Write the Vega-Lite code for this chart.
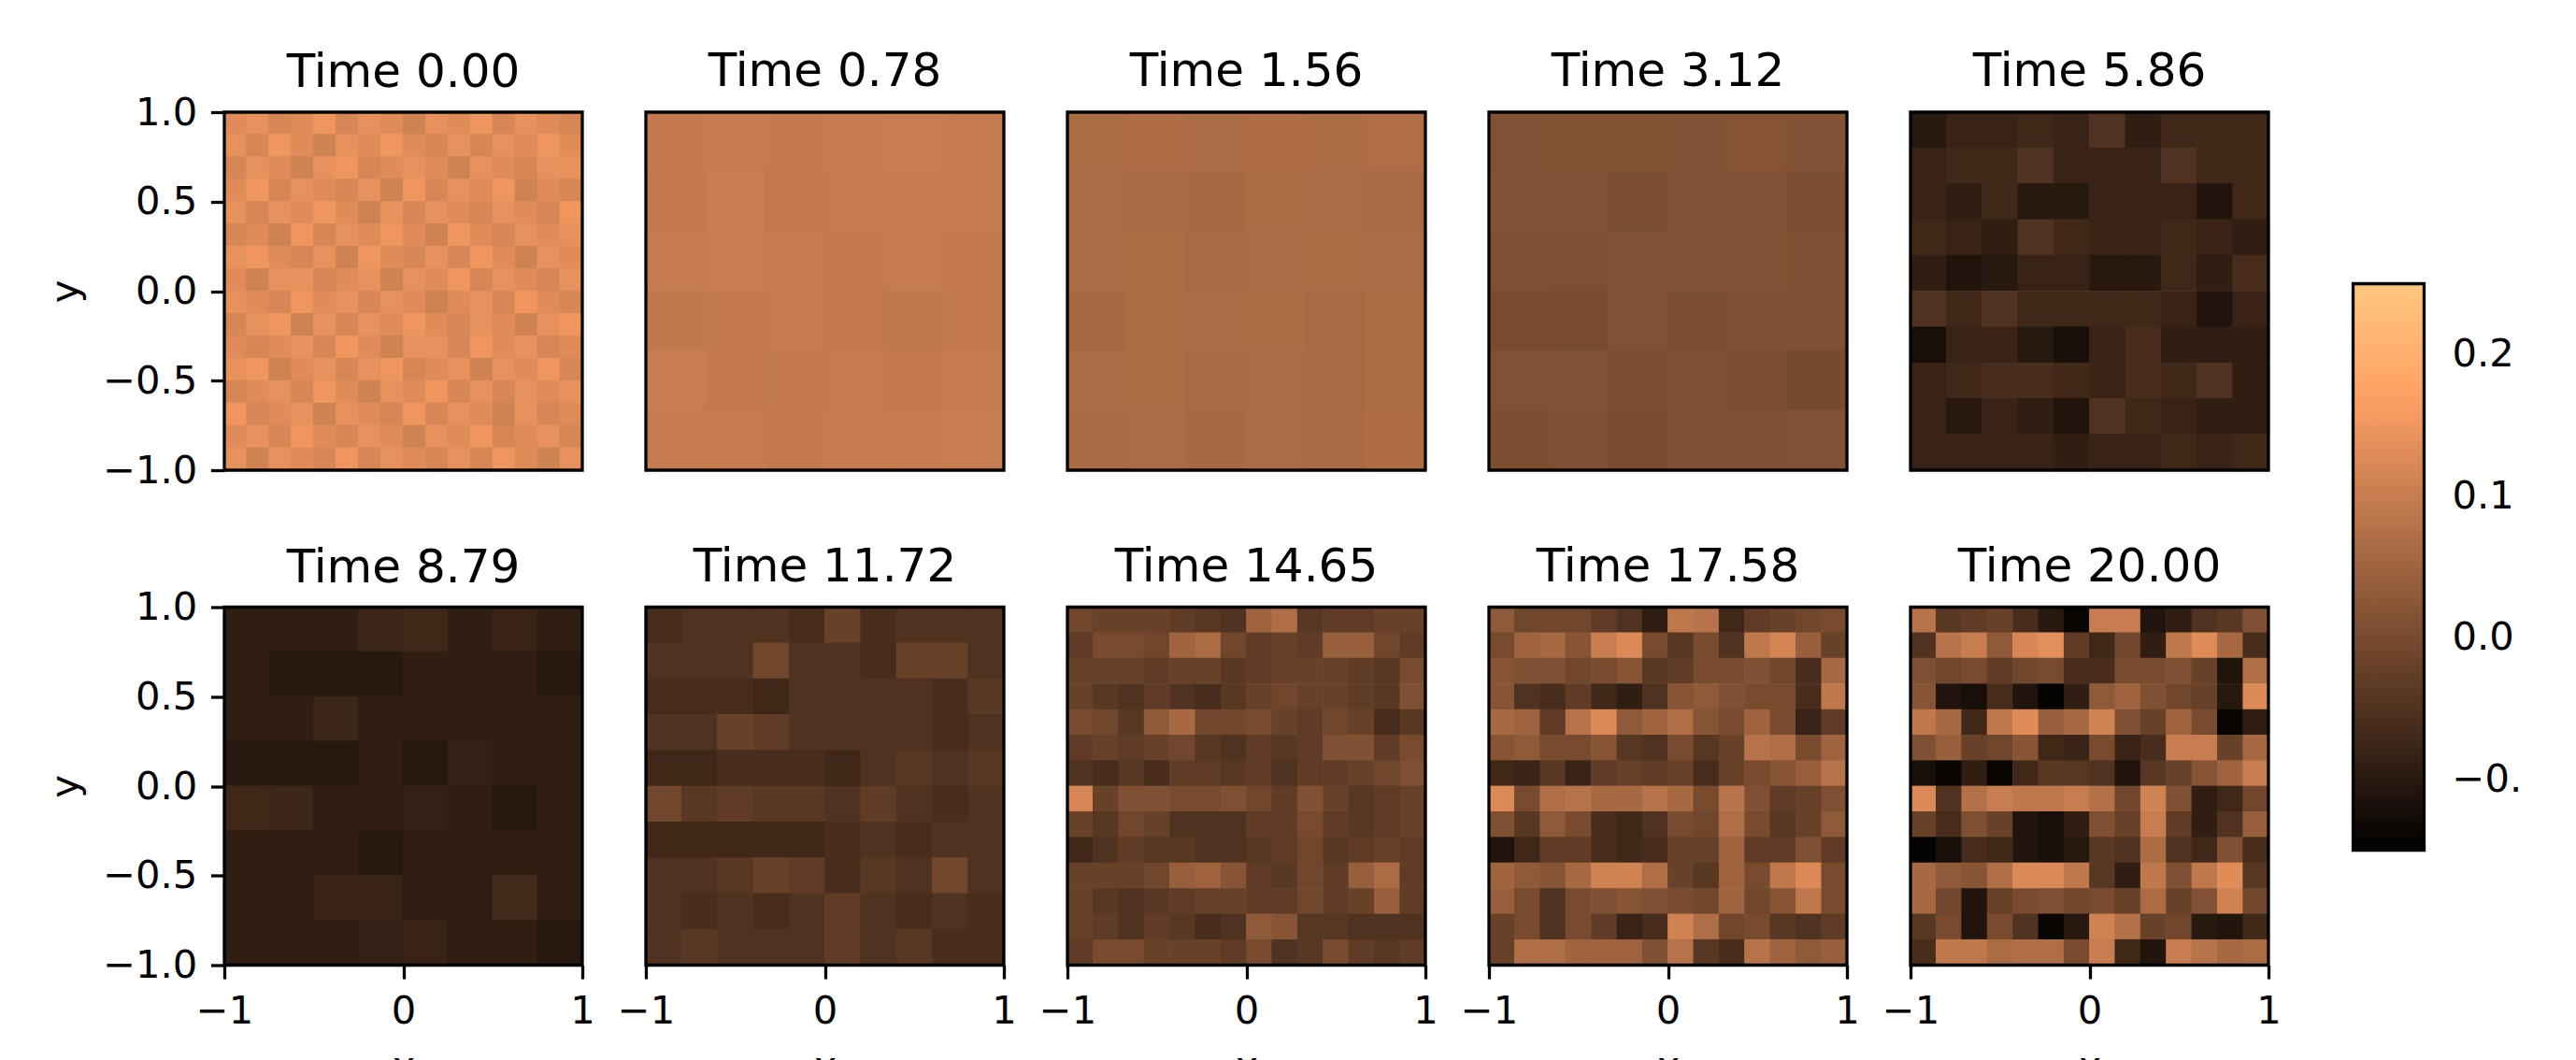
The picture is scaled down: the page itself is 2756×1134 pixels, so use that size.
{"$schema":"https://vega.github.io/schema/vega-lite/v6.json","padding":{"left":49,"top":52,"right":0,"bottom":0},"background":"white","bounds":"flush","columns":5,"spacing":{"row":146.5,"column":68},
"config":{"font":"DejaVu Sans","view":{"stroke":null},"axis":{"labelFont":"DejaVu Sans","titleFont":"DejaVu Sans","labelFontSize":41.67,"titleFontSize":41.67,"titleFontWeight":"normal","tickSize":14.6,"tickWidth":3.3,"tickColor":"black","labelColor":"black","titleColor":"black","labelPadding":14.6,"domain":false,"grid":false,"labelOverlap":false,"labelFlush":false},"title":{"font":"DejaVu Sans","fontSize":50,"fontWeight":"normal","color":"black","offset":25,"anchor":"middle","dy":9}},
"datasets":{"b":[{"s":1}],
"d0":[
{"x":-0.938,"y":0.938,"v":0.13},{"x":-0.813,"y":0.938,"v":0.14},{"x":-0.688,"y":0.938,"v":0.12},{"x":-0.563,"y":0.938,"v":0.13},{"x":-0.438,"y":0.938,"v":0.15},{"x":-0.313,"y":0.938,"v":0.12},{"x":-0.188,"y":0.938,"v":0.14},{"x":-0.063,"y":0.938,"v":0.13},{"x":0.063,"y":0.938,"v":0.11},{"x":0.188,"y":0.938,"v":0.14},{"x":0.313,"y":0.938,"v":0.13},{"x":0.438,"y":0.938,"v":0.15},{"x":0.563,"y":0.938,"v":0.12},{"x":0.688,"y":0.938,"v":0.14},{"x":0.813,"y":0.938,"v":0.13},{"x":0.938,"y":0.938,"v":0.12},
{"x":-0.938,"y":0.813,"v":0.14},{"x":-0.813,"y":0.813,"v":0.12},{"x":-0.688,"y":0.813,"v":0.15},{"x":-0.563,"y":0.813,"v":0.13},{"x":-0.438,"y":0.813,"v":0.11},{"x":-0.313,"y":0.813,"v":0.14},{"x":-0.188,"y":0.813,"v":0.13},{"x":-0.063,"y":0.813,"v":0.15},{"x":0.063,"y":0.813,"v":0.13},{"x":0.188,"y":0.813,"v":0.12},{"x":0.313,"y":0.813,"v":0.14},{"x":0.438,"y":0.813,"v":0.12},{"x":0.563,"y":0.813,"v":0.14},{"x":0.688,"y":0.813,"v":0.13},{"x":0.813,"y":0.813,"v":0.15},{"x":0.938,"y":0.813,"v":0.13},
{"x":-0.938,"y":0.688,"v":0.12},{"x":-0.813,"y":0.688,"v":0.14},{"x":-0.688,"y":0.688,"v":0.13},{"x":-0.563,"y":0.688,"v":0.11},{"x":-0.438,"y":0.688,"v":0.14},{"x":-0.313,"y":0.688,"v":0.15},{"x":-0.188,"y":0.688,"v":0.12},{"x":-0.063,"y":0.688,"v":0.13},{"x":0.063,"y":0.688,"v":0.14},{"x":0.188,"y":0.688,"v":0.13},{"x":0.313,"y":0.688,"v":0.11},{"x":0.438,"y":0.688,"v":0.14},{"x":0.563,"y":0.688,"v":0.13},{"x":0.688,"y":0.688,"v":0.12},{"x":0.813,"y":0.688,"v":0.14},{"x":0.938,"y":0.688,"v":0.14},
{"x":-0.938,"y":0.563,"v":0.13},{"x":-0.813,"y":0.563,"v":0.15},{"x":-0.688,"y":0.563,"v":0.12},{"x":-0.563,"y":0.563,"v":0.14},{"x":-0.438,"y":0.563,"v":0.13},{"x":-0.313,"y":0.563,"v":0.12},{"x":-0.188,"y":0.563,"v":0.14},{"x":-0.063,"y":0.563,"v":0.11},{"x":0.063,"y":0.563,"v":0.15},{"x":0.188,"y":0.563,"v":0.12},{"x":0.313,"y":0.563,"v":0.14},{"x":0.438,"y":0.563,"v":0.13},{"x":0.563,"y":0.563,"v":0.15},{"x":0.688,"y":0.563,"v":0.11},{"x":0.813,"y":0.563,"v":0.13},{"x":0.938,"y":0.563,"v":0.12},
{"x":-0.938,"y":0.438,"v":0.14},{"x":-0.813,"y":0.438,"v":0.12},{"x":-0.688,"y":0.438,"v":0.14},{"x":-0.563,"y":0.438,"v":0.13},{"x":-0.438,"y":0.438,"v":0.15},{"x":-0.313,"y":0.438,"v":0.13},{"x":-0.188,"y":0.438,"v":0.11},{"x":-0.063,"y":0.438,"v":0.14},{"x":0.063,"y":0.438,"v":0.12},{"x":0.188,"y":0.438,"v":0.14},{"x":0.313,"y":0.438,"v":0.13},{"x":0.438,"y":0.438,"v":0.12},{"x":0.563,"y":0.438,"v":0.14},{"x":0.688,"y":0.438,"v":0.13},{"x":0.813,"y":0.438,"v":0.12},{"x":0.938,"y":0.438,"v":0.15},
{"x":-0.938,"y":0.313,"v":0.12},{"x":-0.813,"y":0.313,"v":0.13},{"x":-0.688,"y":0.313,"v":0.11},{"x":-0.563,"y":0.313,"v":0.15},{"x":-0.438,"y":0.313,"v":0.12},{"x":-0.313,"y":0.313,"v":0.14},{"x":-0.188,"y":0.313,"v":0.13},{"x":-0.063,"y":0.313,"v":0.15},{"x":0.063,"y":0.313,"v":0.13},{"x":0.188,"y":0.313,"v":0.11},{"x":0.313,"y":0.313,"v":0.15},{"x":0.438,"y":0.313,"v":0.13},{"x":0.563,"y":0.313,"v":0.12},{"x":0.688,"y":0.313,"v":0.14},{"x":0.813,"y":0.313,"v":0.13},{"x":0.938,"y":0.313,"v":0.14},
{"x":-0.938,"y":0.188,"v":0.14},{"x":-0.813,"y":0.188,"v":0.15},{"x":-0.688,"y":0.188,"v":0.13},{"x":-0.563,"y":0.188,"v":0.12},{"x":-0.438,"y":0.188,"v":0.14},{"x":-0.313,"y":0.188,"v":0.11},{"x":-0.188,"y":0.188,"v":0.15},{"x":-0.063,"y":0.188,"v":0.13},{"x":0.063,"y":0.188,"v":0.12},{"x":0.188,"y":0.188,"v":0.14},{"x":0.313,"y":0.188,"v":0.12},{"x":0.438,"y":0.188,"v":0.15},{"x":0.563,"y":0.188,"v":0.13},{"x":0.688,"y":0.188,"v":0.11},{"x":0.813,"y":0.188,"v":0.14},{"x":0.938,"y":0.188,"v":0.13},
{"x":-0.938,"y":0.063,"v":0.13},{"x":-0.813,"y":0.063,"v":0.11},{"x":-0.688,"y":0.063,"v":0.14},{"x":-0.563,"y":0.063,"v":0.14},{"x":-0.438,"y":0.063,"v":0.12},{"x":-0.313,"y":0.063,"v":0.13},{"x":-0.188,"y":0.063,"v":0.14},{"x":-0.063,"y":0.063,"v":0.11},{"x":0.063,"y":0.063,"v":0.14},{"x":0.188,"y":0.063,"v":0.13},{"x":0.313,"y":0.063,"v":0.15},{"x":0.438,"y":0.063,"v":0.12},{"x":0.563,"y":0.063,"v":0.14},{"x":0.688,"y":0.063,"v":0.13},{"x":0.813,"y":0.063,"v":0.12},{"x":0.938,"y":0.063,"v":0.14},
{"x":-0.938,"y":-0.063,"v":0.14},{"x":-0.813,"y":-0.063,"v":0.13},{"x":-0.688,"y":-0.063,"v":0.12},{"x":-0.563,"y":-0.063,"v":0.15},{"x":-0.438,"y":-0.063,"v":0.13},{"x":-0.313,"y":-0.063,"v":0.14},{"x":-0.188,"y":-0.063,"v":0.12},{"x":-0.063,"y":-0.063,"v":0.14},{"x":0.063,"y":-0.063,"v":0.13},{"x":0.188,"y":-0.063,"v":0.11},{"x":0.313,"y":-0.063,"v":0.13},{"x":0.438,"y":-0.063,"v":0.14},{"x":0.563,"y":-0.063,"v":0.12},{"x":0.688,"y":-0.063,"v":0.15},{"x":0.813,"y":-0.063,"v":0.13},{"x":0.938,"y":-0.063,"v":0.12},
{"x":-0.938,"y":-0.188,"v":0.12},{"x":-0.813,"y":-0.188,"v":0.14},{"x":-0.688,"y":-0.188,"v":0.15},{"x":-0.563,"y":-0.188,"v":0.11},{"x":-0.438,"y":-0.188,"v":0.14},{"x":-0.313,"y":-0.188,"v":0.12},{"x":-0.188,"y":-0.188,"v":0.14},{"x":-0.063,"y":-0.188,"v":0.13},{"x":0.063,"y":-0.188,"v":0.15},{"x":0.188,"y":-0.188,"v":0.13},{"x":0.313,"y":-0.188,"v":0.12},{"x":0.438,"y":-0.188,"v":0.14},{"x":0.563,"y":-0.188,"v":0.13},{"x":0.688,"y":-0.188,"v":0.11},{"x":0.813,"y":-0.188,"v":0.14},{"x":0.938,"y":-0.188,"v":0.15},
{"x":-0.938,"y":-0.313,"v":0.13},{"x":-0.813,"y":-0.313,"v":0.12},{"x":-0.688,"y":-0.313,"v":0.13},{"x":-0.563,"y":-0.313,"v":0.14},{"x":-0.438,"y":-0.313,"v":0.12},{"x":-0.313,"y":-0.313,"v":0.15},{"x":-0.188,"y":-0.313,"v":0.13},{"x":-0.063,"y":-0.313,"v":0.11},{"x":0.063,"y":-0.313,"v":0.14},{"x":0.188,"y":-0.313,"v":0.14},{"x":0.313,"y":-0.313,"v":0.12},{"x":0.438,"y":-0.313,"v":0.15},{"x":0.563,"y":-0.313,"v":0.13},{"x":0.688,"y":-0.313,"v":0.14},{"x":0.813,"y":-0.313,"v":0.12},{"x":0.938,"y":-0.313,"v":0.13},
{"x":-0.938,"y":-0.438,"v":0.14},{"x":-0.813,"y":-0.438,"v":0.15},{"x":-0.688,"y":-0.438,"v":0.11},{"x":-0.563,"y":-0.438,"v":0.13},{"x":-0.438,"y":-0.438,"v":0.14},{"x":-0.313,"y":-0.438,"v":0.12},{"x":-0.188,"y":-0.438,"v":0.14},{"x":-0.063,"y":-0.438,"v":0.15},{"x":0.063,"y":-0.438,"v":0.12},{"x":0.188,"y":-0.438,"v":0.13},{"x":0.313,"y":-0.438,"v":0.14},{"x":0.438,"y":-0.438,"v":0.11},{"x":0.563,"y":-0.438,"v":0.14},{"x":0.688,"y":-0.438,"v":0.13},{"x":0.813,"y":-0.438,"v":0.15},{"x":0.938,"y":-0.438,"v":0.12},
{"x":-0.938,"y":-0.563,"v":0.12},{"x":-0.813,"y":-0.563,"v":0.13},{"x":-0.688,"y":-0.563,"v":0.14},{"x":-0.563,"y":-0.563,"v":0.12},{"x":-0.438,"y":-0.563,"v":0.15},{"x":-0.313,"y":-0.563,"v":0.13},{"x":-0.188,"y":-0.563,"v":0.11},{"x":-0.063,"y":-0.563,"v":0.14},{"x":0.063,"y":-0.563,"v":0.13},{"x":0.188,"y":-0.563,"v":0.15},{"x":0.313,"y":-0.563,"v":0.12},{"x":0.438,"y":-0.563,"v":0.14},{"x":0.563,"y":-0.563,"v":0.12},{"x":0.688,"y":-0.563,"v":0.14},{"x":0.813,"y":-0.563,"v":0.13},{"x":0.938,"y":-0.563,"v":0.14},
{"x":-0.938,"y":-0.688,"v":0.15},{"x":-0.813,"y":-0.688,"v":0.12},{"x":-0.688,"y":-0.688,"v":0.13},{"x":-0.563,"y":-0.688,"v":0.14},{"x":-0.438,"y":-0.688,"v":0.11},{"x":-0.313,"y":-0.688,"v":0.14},{"x":-0.188,"y":-0.688,"v":0.13},{"x":-0.063,"y":-0.688,"v":0.12},{"x":0.063,"y":-0.688,"v":0.15},{"x":0.188,"y":-0.688,"v":0.12},{"x":0.313,"y":-0.688,"v":0.14},{"x":0.438,"y":-0.688,"v":0.13},{"x":0.563,"y":-0.688,"v":0.11},{"x":0.688,"y":-0.688,"v":0.14},{"x":0.813,"y":-0.688,"v":0.12},{"x":0.938,"y":-0.688,"v":0.13},
{"x":-0.938,"y":-0.813,"v":0.13},{"x":-0.813,"y":-0.813,"v":0.14},{"x":-0.688,"y":-0.813,"v":0.12},{"x":-0.563,"y":-0.813,"v":0.15},{"x":-0.438,"y":-0.813,"v":0.13},{"x":-0.313,"y":-0.813,"v":0.12},{"x":-0.188,"y":-0.813,"v":0.14},{"x":-0.063,"y":-0.813,"v":0.13},{"x":0.063,"y":-0.813,"v":0.11},{"x":0.188,"y":-0.813,"v":0.14},{"x":0.313,"y":-0.813,"v":0.13},{"x":0.438,"y":-0.813,"v":0.15},{"x":0.563,"y":-0.813,"v":0.12},{"x":0.688,"y":-0.813,"v":0.13},{"x":0.813,"y":-0.813,"v":0.14},{"x":0.938,"y":-0.813,"v":0.12},
{"x":-0.938,"y":-0.938,"v":0.14},{"x":-0.813,"y":-0.938,"v":0.11},{"x":-0.688,"y":-0.938,"v":0.14},{"x":-0.563,"y":-0.938,"v":0.13},{"x":-0.438,"y":-0.938,"v":0.12},{"x":-0.313,"y":-0.938,"v":0.15},{"x":-0.188,"y":-0.938,"v":0.12},{"x":-0.063,"y":-0.938,"v":0.14},{"x":0.063,"y":-0.938,"v":0.13},{"x":0.188,"y":-0.938,"v":0.12},{"x":0.313,"y":-0.938,"v":0.14},{"x":0.438,"y":-0.938,"v":0.12},{"x":0.563,"y":-0.938,"v":0.15},{"x":0.688,"y":-0.938,"v":0.13},{"x":0.813,"y":-0.938,"v":0.11},{"x":0.938,"y":-0.938,"v":0.14}],
"d1":[
{"x":-0.833,"y":0.833,"v":0.095},{"x":-0.5,"y":0.833,"v":0.098},{"x":-0.167,"y":0.833,"v":0.095},{"x":0.167,"y":0.833,"v":0.098},{"x":0.5,"y":0.833,"v":0.1},{"x":0.833,"y":0.833,"v":0.096},
{"x":-0.833,"y":0.5,"v":0.094},{"x":-0.5,"y":0.5,"v":0.1},{"x":-0.167,"y":0.5,"v":0.092},{"x":0.167,"y":0.5,"v":0.096},{"x":0.5,"y":0.5,"v":0.098},{"x":0.833,"y":0.5,"v":0.096},
{"x":-0.833,"y":0.167,"v":0.096},{"x":-0.5,"y":0.167,"v":0.1},{"x":-0.167,"y":0.167,"v":0.096},{"x":0.167,"y":0.167,"v":0.094},{"x":0.5,"y":0.167,"v":0.096},{"x":0.833,"y":0.167,"v":0.094},
{"x":-0.833,"y":-0.167,"v":0.09},{"x":-0.5,"y":-0.167,"v":0.094},{"x":-0.167,"y":-0.167,"v":0.096},{"x":0.167,"y":-0.167,"v":0.094},{"x":0.5,"y":-0.167,"v":0.09},{"x":0.833,"y":-0.167,"v":0.094},
{"x":-0.833,"y":-0.5,"v":0.1},{"x":-0.5,"y":-0.5,"v":0.094},{"x":-0.167,"y":-0.5,"v":0.092},{"x":0.167,"y":-0.5,"v":0.096},{"x":0.5,"y":-0.5,"v":0.094},{"x":0.833,"y":-0.5,"v":0.098},
{"x":-0.833,"y":-0.833,"v":0.096},{"x":-0.5,"y":-0.833,"v":0.098},{"x":-0.167,"y":-0.833,"v":0.094},{"x":0.167,"y":-0.833,"v":0.098},{"x":0.5,"y":-0.833,"v":0.098},{"x":0.833,"y":-0.833,"v":0.1}],
"d2":[
{"x":-0.833,"y":0.833,"v":0.066},{"x":-0.5,"y":0.833,"v":0.068},{"x":-0.167,"y":0.833,"v":0.064},{"x":0.167,"y":0.833,"v":0.068},{"x":0.5,"y":0.833,"v":0.066},{"x":0.833,"y":0.833,"v":0.07},
{"x":-0.833,"y":0.5,"v":0.064},{"x":-0.5,"y":0.5,"v":0.062},{"x":-0.167,"y":0.5,"v":0.06},{"x":0.167,"y":0.5,"v":0.066},{"x":0.5,"y":0.5,"v":0.064},{"x":0.833,"y":0.5,"v":0.062},
{"x":-0.833,"y":0.167,"v":0.064},{"x":-0.5,"y":0.167,"v":0.066},{"x":-0.167,"y":0.167,"v":0.062},{"x":0.167,"y":0.167,"v":0.064},{"x":0.5,"y":0.167,"v":0.066},{"x":0.833,"y":0.167,"v":0.064},
{"x":-0.833,"y":-0.167,"v":0.06},{"x":-0.5,"y":-0.167,"v":0.066},{"x":-0.167,"y":-0.167,"v":0.064},{"x":0.167,"y":-0.167,"v":0.066},{"x":0.5,"y":-0.167,"v":0.062},{"x":0.833,"y":-0.167,"v":0.066},
{"x":-0.833,"y":-0.5,"v":0.064},{"x":-0.5,"y":-0.5,"v":0.066},{"x":-0.167,"y":-0.5,"v":0.062},{"x":0.167,"y":-0.5,"v":0.064},{"x":0.5,"y":-0.5,"v":0.062},{"x":0.833,"y":-0.5,"v":0.066},
{"x":-0.833,"y":-0.833,"v":0.062},{"x":-0.5,"y":-0.833,"v":0.064},{"x":-0.167,"y":-0.833,"v":0.06},{"x":0.167,"y":-0.833,"v":0.064},{"x":0.5,"y":-0.833,"v":0.062},{"x":0.833,"y":-0.833,"v":0.068}],
"d3":[
{"x":-0.833,"y":0.833,"v":0.012},{"x":-0.5,"y":0.833,"v":0.016},{"x":-0.167,"y":0.833,"v":0.016},{"x":0.167,"y":0.833,"v":0.012},{"x":0.5,"y":0.833,"v":0.018},{"x":0.833,"y":0.833,"v":0.014},
{"x":-0.833,"y":0.5,"v":0.014},{"x":-0.5,"y":0.5,"v":0.014},{"x":-0.167,"y":0.5,"v":0.004},{"x":0.167,"y":0.5,"v":0.014},{"x":0.5,"y":0.5,"v":0.012},{"x":0.833,"y":0.5,"v":0.004},
{"x":-0.833,"y":0.167,"v":0.01},{"x":-0.5,"y":0.167,"v":0.008},{"x":-0.167,"y":0.167,"v":0.014},{"x":0.167,"y":0.167,"v":0.014},{"x":0.5,"y":0.167,"v":0.014},{"x":0.833,"y":0.167,"v":0.01},
{"x":-0.833,"y":-0.167,"v":0.002},{"x":-0.5,"y":-0.167,"v":0.002},{"x":-0.167,"y":-0.167,"v":0.012},{"x":0.167,"y":-0.167,"v":0.004},{"x":0.5,"y":-0.167,"v":0.008},{"x":0.833,"y":-0.167,"v":0.01},
{"x":-0.833,"y":-0.5,"v":0.012},{"x":-0.5,"y":-0.5,"v":0.014},{"x":-0.167,"y":-0.5,"v":0.006},{"x":0.167,"y":-0.5,"v":0.01},{"x":0.5,"y":-0.5,"v":0.006},{"x":0.833,"y":-0.5,"v":-0.002},
{"x":-0.833,"y":-0.833,"v":0.006},{"x":-0.5,"y":-0.833,"v":0.008},{"x":-0.167,"y":-0.833,"v":0.002},{"x":0.167,"y":-0.833,"v":0.01},{"x":0.5,"y":-0.833,"v":0.008},{"x":0.833,"y":-0.833,"v":0.012}],
"d4":[
{"x":-0.9,"y":0.9,"v":-0.1},{"x":-0.7,"y":0.9,"v":-0.08},{"x":-0.5,"y":0.9,"v":-0.08},{"x":-0.3,"y":0.9,"v":-0.07},{"x":-0.1,"y":0.9,"v":-0.08},{"x":0.1,"y":0.9,"v":-0.05},{"x":0.3,"y":0.9,"v":-0.09},{"x":0.5,"y":0.9,"v":-0.07},{"x":0.7,"y":0.9,"v":-0.07},{"x":0.9,"y":0.9,"v":-0.07},
{"x":-0.9,"y":0.7,"v":-0.08},{"x":-0.7,"y":0.7,"v":-0.07},{"x":-0.5,"y":0.7,"v":-0.07},{"x":-0.3,"y":0.7,"v":-0.05},{"x":-0.1,"y":0.7,"v":-0.08},{"x":0.1,"y":0.7,"v":-0.08},{"x":0.3,"y":0.7,"v":-0.08},{"x":0.5,"y":0.7,"v":-0.05},{"x":0.7,"y":0.7,"v":-0.07},{"x":0.9,"y":0.7,"v":-0.07},
{"x":-0.9,"y":0.5,"v":-0.08},{"x":-0.7,"y":0.5,"v":-0.09},{"x":-0.5,"y":0.5,"v":-0.07},{"x":-0.3,"y":0.5,"v":-0.1},{"x":-0.1,"y":0.5,"v":-0.1},{"x":0.1,"y":0.5,"v":-0.08},{"x":0.3,"y":0.5,"v":-0.08},{"x":0.5,"y":0.5,"v":-0.08},{"x":0.7,"y":0.5,"v":-0.11},{"x":0.9,"y":0.5,"v":-0.07},
{"x":-0.9,"y":0.3,"v":-0.07},{"x":-0.7,"y":0.3,"v":-0.08},{"x":-0.5,"y":0.3,"v":-0.09},{"x":-0.3,"y":0.3,"v":-0.05},{"x":-0.1,"y":0.3,"v":-0.07},{"x":0.1,"y":0.3,"v":-0.08},{"x":0.3,"y":0.3,"v":-0.08},{"x":0.5,"y":0.3,"v":-0.07},{"x":0.7,"y":0.3,"v":-0.08},{"x":0.9,"y":0.3,"v":-0.09},
{"x":-0.9,"y":0.1,"v":-0.09},{"x":-0.7,"y":0.1,"v":-0.11},{"x":-0.5,"y":0.1,"v":-0.1},{"x":-0.3,"y":0.1,"v":-0.08},{"x":-0.1,"y":0.1,"v":-0.08},{"x":0.1,"y":0.1,"v":-0.1},{"x":0.3,"y":0.1,"v":-0.1},{"x":0.5,"y":0.1,"v":-0.07},{"x":0.7,"y":0.1,"v":-0.09},{"x":0.9,"y":0.1,"v":-0.06},
{"x":-0.9,"y":-0.1,"v":-0.05},{"x":-0.7,"y":-0.1,"v":-0.07},{"x":-0.5,"y":-0.1,"v":-0.05},{"x":-0.3,"y":-0.1,"v":-0.07},{"x":-0.1,"y":-0.1,"v":-0.07},{"x":0.1,"y":-0.1,"v":-0.07},{"x":0.3,"y":-0.1,"v":-0.07},{"x":0.5,"y":-0.1,"v":-0.08},{"x":0.7,"y":-0.1,"v":-0.11},{"x":0.9,"y":-0.1,"v":-0.08},
{"x":-0.9,"y":-0.3,"v":-0.12},{"x":-0.7,"y":-0.3,"v":-0.08},{"x":-0.5,"y":-0.3,"v":-0.08},{"x":-0.3,"y":-0.3,"v":-0.1},{"x":-0.1,"y":-0.3,"v":-0.12},{"x":0.1,"y":-0.3,"v":-0.08},{"x":0.3,"y":-0.3,"v":-0.06},{"x":0.5,"y":-0.3,"v":-0.09},{"x":0.7,"y":-0.3,"v":-0.09},{"x":0.9,"y":-0.3,"v":-0.09},
{"x":-0.9,"y":-0.5,"v":-0.08},{"x":-0.7,"y":-0.5,"v":-0.07},{"x":-0.5,"y":-0.5,"v":-0.06},{"x":-0.3,"y":-0.5,"v":-0.06},{"x":-0.1,"y":-0.5,"v":-0.07},{"x":0.1,"y":-0.5,"v":-0.08},{"x":0.3,"y":-0.5,"v":-0.06},{"x":0.5,"y":-0.5,"v":-0.07},{"x":0.7,"y":-0.5,"v":-0.05},{"x":0.9,"y":-0.5,"v":-0.09},
{"x":-0.9,"y":-0.7,"v":-0.08},{"x":-0.7,"y":-0.7,"v":-0.1},{"x":-0.5,"y":-0.7,"v":-0.08},{"x":-0.3,"y":-0.7,"v":-0.09},{"x":-0.1,"y":-0.7,"v":-0.11},{"x":0.1,"y":-0.7,"v":-0.05},{"x":0.3,"y":-0.7,"v":-0.07},{"x":0.5,"y":-0.7,"v":-0.08},{"x":0.7,"y":-0.7,"v":-0.09},{"x":0.9,"y":-0.7,"v":-0.09},
{"x":-0.9,"y":-0.9,"v":-0.08},{"x":-0.7,"y":-0.9,"v":-0.08},{"x":-0.5,"y":-0.9,"v":-0.08},{"x":-0.3,"y":-0.9,"v":-0.08},{"x":-0.1,"y":-0.9,"v":-0.09},{"x":0.1,"y":-0.9,"v":-0.08},{"x":0.3,"y":-0.9,"v":-0.08},{"x":0.5,"y":-0.9,"v":-0.07},{"x":0.7,"y":-0.9,"v":-0.08},{"x":0.9,"y":-0.9,"v":-0.07}],
"d5":[
{"x":-0.875,"y":0.875,"v":-0.09},{"x":-0.625,"y":0.875,"v":-0.09},{"x":-0.375,"y":0.875,"v":-0.09},{"x":-0.125,"y":0.875,"v":-0.075},{"x":0.125,"y":0.875,"v":-0.07},{"x":0.375,"y":0.875,"v":-0.09},{"x":0.625,"y":0.875,"v":-0.08},{"x":0.875,"y":0.875,"v":-0.09},
{"x":-0.875,"y":0.625,"v":-0.09},{"x":-0.625,"y":0.625,"v":-0.1},{"x":-0.375,"y":0.625,"v":-0.1},{"x":-0.125,"y":0.625,"v":-0.1},{"x":0.125,"y":0.625,"v":-0.09},{"x":0.375,"y":0.625,"v":-0.09},{"x":0.625,"y":0.625,"v":-0.09},{"x":0.875,"y":0.625,"v":-0.1},
{"x":-0.875,"y":0.375,"v":-0.09},{"x":-0.625,"y":0.375,"v":-0.09},{"x":-0.375,"y":0.375,"v":-0.075},{"x":-0.125,"y":0.375,"v":-0.09},{"x":0.125,"y":0.375,"v":-0.09},{"x":0.375,"y":0.375,"v":-0.09},{"x":0.625,"y":0.375,"v":-0.09},{"x":0.875,"y":0.375,"v":-0.09},
{"x":-0.875,"y":0.125,"v":-0.1},{"x":-0.625,"y":0.125,"v":-0.1},{"x":-0.375,"y":0.125,"v":-0.1},{"x":-0.125,"y":0.125,"v":-0.09},{"x":0.125,"y":0.125,"v":-0.1},{"x":0.375,"y":0.125,"v":-0.085},{"x":0.625,"y":0.125,"v":-0.09},{"x":0.875,"y":0.125,"v":-0.09},
{"x":-0.875,"y":-0.125,"v":-0.07},{"x":-0.625,"y":-0.125,"v":-0.075},{"x":-0.375,"y":-0.125,"v":-0.09},{"x":-0.125,"y":-0.125,"v":-0.09},{"x":0.125,"y":-0.125,"v":-0.085},{"x":0.375,"y":-0.125,"v":-0.09},{"x":0.625,"y":-0.125,"v":-0.1},{"x":0.875,"y":-0.125,"v":-0.09},
{"x":-0.875,"y":-0.375,"v":-0.09},{"x":-0.625,"y":-0.375,"v":-0.09},{"x":-0.375,"y":-0.375,"v":-0.09},{"x":-0.125,"y":-0.375,"v":-0.1},{"x":0.125,"y":-0.375,"v":-0.09},{"x":0.375,"y":-0.375,"v":-0.09},{"x":0.625,"y":-0.375,"v":-0.09},{"x":0.875,"y":-0.375,"v":-0.09},
{"x":-0.875,"y":-0.625,"v":-0.09},{"x":-0.625,"y":-0.625,"v":-0.09},{"x":-0.375,"y":-0.625,"v":-0.08},{"x":-0.125,"y":-0.625,"v":-0.08},{"x":0.125,"y":-0.625,"v":-0.09},{"x":0.375,"y":-0.625,"v":-0.09},{"x":0.625,"y":-0.625,"v":-0.065},{"x":0.875,"y":-0.625,"v":-0.09},
{"x":-0.875,"y":-0.875,"v":-0.09},{"x":-0.625,"y":-0.875,"v":-0.09},{"x":-0.375,"y":-0.875,"v":-0.09},{"x":-0.125,"y":-0.875,"v":-0.085},{"x":0.125,"y":-0.875,"v":-0.08},{"x":0.375,"y":-0.875,"v":-0.09},{"x":0.625,"y":-0.875,"v":-0.09},{"x":0.875,"y":-0.875,"v":-0.1}],
"d6":[
{"x":-0.9,"y":0.9,"v":-0.06},{"x":-0.7,"y":0.9,"v":-0.05},{"x":-0.5,"y":0.9,"v":-0.05},{"x":-0.3,"y":0.9,"v":-0.05},{"x":-0.1,"y":0.9,"v":-0.06},{"x":0.1,"y":0.9,"v":-0.02},{"x":0.3,"y":0.9,"v":-0.06},{"x":0.5,"y":0.9,"v":-0.05},{"x":0.7,"y":0.9,"v":-0.05},{"x":0.9,"y":0.9,"v":-0.05},
{"x":-0.9,"y":0.7,"v":-0.05},{"x":-0.7,"y":0.7,"v":-0.05},{"x":-0.5,"y":0.7,"v":-0.05},{"x":-0.3,"y":0.7,"v":-0.01},{"x":-0.1,"y":0.7,"v":-0.05},{"x":0.1,"y":0.7,"v":-0.05},{"x":0.3,"y":0.7,"v":-0.06},{"x":0.5,"y":0.7,"v":-0.02},{"x":0.7,"y":0.7,"v":-0.02},{"x":0.9,"y":0.7,"v":-0.05},
{"x":-0.9,"y":0.5,"v":-0.06},{"x":-0.7,"y":0.5,"v":-0.06},{"x":-0.5,"y":0.5,"v":-0.06},{"x":-0.3,"y":0.5,"v":-0.07},{"x":-0.1,"y":0.5,"v":-0.05},{"x":0.1,"y":0.5,"v":-0.05},{"x":0.3,"y":0.5,"v":-0.05},{"x":0.5,"y":0.5,"v":-0.05},{"x":0.7,"y":0.5,"v":-0.06},{"x":0.9,"y":0.5,"v":-0.04},
{"x":-0.9,"y":0.3,"v":-0.05},{"x":-0.7,"y":0.3,"v":-0.05},{"x":-0.5,"y":0.3,"v":-0.02},{"x":-0.3,"y":0.3,"v":-0.03},{"x":-0.1,"y":0.3,"v":-0.05},{"x":0.1,"y":0.3,"v":-0.05},{"x":0.3,"y":0.3,"v":-0.05},{"x":0.5,"y":0.3,"v":-0.05},{"x":0.7,"y":0.3,"v":-0.06},{"x":0.9,"y":0.3,"v":-0.05},
{"x":-0.9,"y":0.1,"v":-0.07},{"x":-0.7,"y":0.1,"v":-0.07},{"x":-0.5,"y":0.1,"v":-0.06},{"x":-0.3,"y":0.1,"v":-0.06},{"x":-0.1,"y":0.1,"v":-0.06},{"x":0.1,"y":0.1,"v":-0.07},{"x":0.3,"y":0.1,"v":-0.05},{"x":0.5,"y":0.1,"v":-0.04},{"x":0.7,"y":0.1,"v":-0.05},{"x":0.9,"y":0.1,"v":-0.04},
{"x":-0.9,"y":-0.1,"v":-0.01},{"x":-0.7,"y":-0.1,"v":-0.04},{"x":-0.5,"y":-0.1,"v":-0.03},{"x":-0.3,"y":-0.1,"v":-0.04},{"x":-0.1,"y":-0.1,"v":-0.04},{"x":0.1,"y":-0.1,"v":-0.05},{"x":0.3,"y":-0.1,"v":-0.03},{"x":0.5,"y":-0.1,"v":-0.05},{"x":0.7,"y":-0.1,"v":-0.06},{"x":0.9,"y":-0.1,"v":-0.05},
{"x":-0.9,"y":-0.3,"v":-0.07},{"x":-0.7,"y":-0.3,"v":-0.07},{"x":-0.5,"y":-0.3,"v":-0.07},{"x":-0.3,"y":-0.3,"v":-0.07},{"x":-0.1,"y":-0.3,"v":-0.07},{"x":0.1,"y":-0.3,"v":-0.06},{"x":0.3,"y":-0.3,"v":-0.05},{"x":0.5,"y":-0.3,"v":-0.06},{"x":0.7,"y":-0.3,"v":-0.05},{"x":0.9,"y":-0.3,"v":-0.05},
{"x":-0.9,"y":-0.5,"v":-0.05},{"x":-0.7,"y":-0.5,"v":-0.05},{"x":-0.5,"y":-0.5,"v":-0.04},{"x":-0.3,"y":-0.5,"v":-0.02},{"x":-0.1,"y":-0.5,"v":-0.03},{"x":0.1,"y":-0.5,"v":-0.06},{"x":0.3,"y":-0.5,"v":-0.04},{"x":0.5,"y":-0.5,"v":-0.05},{"x":0.7,"y":-0.5,"v":-0.01},{"x":0.9,"y":-0.5,"v":-0.05},
{"x":-0.9,"y":-0.7,"v":-0.05},{"x":-0.7,"y":-0.7,"v":-0.06},{"x":-0.5,"y":-0.7,"v":-0.05},{"x":-0.3,"y":-0.7,"v":-0.06},{"x":-0.1,"y":-0.7,"v":-0.05},{"x":0.1,"y":-0.7,"v":-0.03},{"x":0.3,"y":-0.7,"v":-0.05},{"x":0.5,"y":-0.7,"v":-0.06},{"x":0.7,"y":-0.7,"v":-0.05},{"x":0.9,"y":-0.7,"v":-0.06},
{"x":-0.9,"y":-0.9,"v":-0.05},{"x":-0.7,"y":-0.9,"v":-0.04},{"x":-0.5,"y":-0.9,"v":-0.05},{"x":-0.3,"y":-0.9,"v":-0.05},{"x":-0.1,"y":-0.9,"v":-0.05},{"x":0.1,"y":-0.9,"v":-0.03},{"x":0.3,"y":-0.9,"v":-0.05},{"x":0.5,"y":-0.9,"v":-0.04},{"x":0.7,"y":-0.9,"v":-0.06},{"x":0.9,"y":-0.9,"v":-0.06}],
"d7":[
{"x":-0.929,"y":0.929,"v":-0.01},{"x":-0.786,"y":0.929,"v":-0.02},{"x":-0.643,"y":0.929,"v":-0.02},{"x":-0.5,"y":0.929,"v":-0.02},{"x":-0.357,"y":0.929,"v":-0.03},{"x":-0.214,"y":0.929,"v":-0.04},{"x":-0.071,"y":0.929,"v":-0.05},{"x":0.071,"y":0.929,"v":0.05},{"x":0.214,"y":0.929,"v":0.07},{"x":0.357,"y":0.929,"v":-0.04},{"x":0.5,"y":0.929,"v":-0.03},{"x":0.643,"y":0.929,"v":-0.03},{"x":0.786,"y":0.929,"v":-0.02},{"x":0.929,"y":0.929,"v":-0.02},
{"x":-0.929,"y":0.786,"v":-0.03},{"x":-0.786,"y":0.786,"v":0},{"x":-0.643,"y":0.786,"v":0},{"x":-0.5,"y":0.786,"v":-0.01},{"x":-0.357,"y":0.786,"v":0.05},{"x":-0.214,"y":0.786,"v":0.065},{"x":-0.071,"y":0.786,"v":-0.01},{"x":0.071,"y":0.786,"v":-0.03},{"x":0.214,"y":0.786,"v":-0.02},{"x":0.357,"y":0.786,"v":-0.03},{"x":0.5,"y":0.786,"v":0.04},{"x":0.643,"y":0.786,"v":0.04},{"x":0.786,"y":0.786,"v":-0.01},{"x":0.929,"y":0.786,"v":-0.03},
{"x":-0.929,"y":0.643,"v":-0.02},{"x":-0.786,"y":0.643,"v":-0.02},{"x":-0.643,"y":0.643,"v":-0.02},{"x":-0.5,"y":0.643,"v":-0.03},{"x":-0.357,"y":0.643,"v":-0.02},{"x":-0.214,"y":0.643,"v":-0.02},{"x":-0.071,"y":0.643,"v":-0.04},{"x":0.071,"y":0.643,"v":-0.03},{"x":0.214,"y":0.643,"v":-0.02},{"x":0.357,"y":0.643,"v":-0.02},{"x":0.5,"y":0.643,"v":-0.02},{"x":0.643,"y":0.643,"v":-0.03},{"x":0.786,"y":0.643,"v":-0.04},{"x":0.929,"y":0.643,"v":0},
{"x":-0.929,"y":0.5,"v":-0.02},{"x":-0.786,"y":0.5,"v":-0.04},{"x":-0.643,"y":0.5,"v":-0.05},{"x":-0.5,"y":0.5,"v":-0.03},{"x":-0.357,"y":0.5,"v":-0.05},{"x":-0.214,"y":0.5,"v":-0.06},{"x":-0.071,"y":0.5,"v":-0.04},{"x":0.071,"y":0.5,"v":-0.02},{"x":0.214,"y":0.5,"v":-0.01},{"x":0.357,"y":0.5,"v":-0.02},{"x":0.5,"y":0.5,"v":-0.02},{"x":0.643,"y":0.5,"v":-0.03},{"x":0.786,"y":0.5,"v":-0.04},{"x":0.929,"y":0.5,"v":0.01},
{"x":-0.929,"y":0.357,"v":0},{"x":-0.786,"y":0.357,"v":-0.01},{"x":-0.643,"y":0.357,"v":-0.04},{"x":-0.5,"y":0.357,"v":0.03},{"x":-0.357,"y":0.357,"v":0.06},{"x":-0.214,"y":0.357,"v":-0.01},{"x":-0.071,"y":0.357,"v":-0.01},{"x":0.071,"y":0.357,"v":0},{"x":0.214,"y":0.357,"v":-0.02},{"x":0.357,"y":0.357,"v":-0.03},{"x":0.5,"y":0.357,"v":-0.01},{"x":0.643,"y":0.357,"v":-0.02},{"x":0.786,"y":0.357,"v":-0.06},{"x":0.929,"y":0.357,"v":-0.04},
{"x":-0.929,"y":0.214,"v":-0.03},{"x":-0.786,"y":0.214,"v":-0.02},{"x":-0.643,"y":0.214,"v":-0.03},{"x":-0.5,"y":0.214,"v":-0.02},{"x":-0.357,"y":0.214,"v":-0.01},{"x":-0.214,"y":0.214,"v":-0.04},{"x":-0.071,"y":0.214,"v":-0.05},{"x":0.071,"y":0.214,"v":-0.03},{"x":0.214,"y":0.214,"v":-0.04},{"x":0.357,"y":0.214,"v":-0.03},{"x":0.5,"y":0.214,"v":0.01},{"x":0.643,"y":0.214,"v":0.01},{"x":0.786,"y":0.214,"v":-0.03},{"x":0.929,"y":0.214,"v":0},
{"x":-0.929,"y":0.071,"v":-0.05},{"x":-0.786,"y":0.071,"v":-0.06},{"x":-0.643,"y":0.071,"v":-0.04},{"x":-0.5,"y":0.071,"v":-0.06},{"x":-0.357,"y":0.071,"v":-0.03},{"x":-0.214,"y":0.071,"v":-0.03},{"x":-0.071,"y":0.071,"v":-0.04},{"x":0.071,"y":0.071,"v":-0.03},{"x":0.214,"y":0.071,"v":-0.05},{"x":0.357,"y":0.071,"v":-0.03},{"x":0.5,"y":0.071,"v":-0.03},{"x":0.643,"y":0.071,"v":-0.02},{"x":0.786,"y":0.071,"v":-0.01},{"x":0.929,"y":0.071,"v":0.01},
{"x":-0.929,"y":-0.071,"v":0.12},{"x":-0.786,"y":-0.071,"v":-0.02},{"x":-0.643,"y":-0.071,"v":0.01},{"x":-0.5,"y":-0.071,"v":0.01},{"x":-0.357,"y":-0.071,"v":0},{"x":-0.214,"y":-0.071,"v":0},{"x":-0.071,"y":-0.071,"v":0.01},{"x":0.071,"y":-0.071,"v":-0.01},{"x":0.214,"y":-0.071,"v":-0.03},{"x":0.357,"y":-0.071,"v":0.01},{"x":0.5,"y":-0.071,"v":-0.02},{"x":0.643,"y":-0.071,"v":-0.04},{"x":0.786,"y":-0.071,"v":-0.03},{"x":0.929,"y":-0.071,"v":-0.02},
{"x":-0.929,"y":-0.214,"v":-0.02},{"x":-0.786,"y":-0.214,"v":-0.04},{"x":-0.643,"y":-0.214,"v":-0.01},{"x":-0.5,"y":-0.214,"v":-0.02},{"x":-0.357,"y":-0.214,"v":-0.05},{"x":-0.214,"y":-0.214,"v":-0.05},{"x":-0.071,"y":-0.214,"v":-0.05},{"x":0.071,"y":-0.214,"v":-0.03},{"x":0.214,"y":-0.214,"v":-0.03},{"x":0.357,"y":-0.214,"v":0},{"x":0.5,"y":-0.214,"v":-0.03},{"x":0.643,"y":-0.214,"v":-0.04},{"x":0.786,"y":-0.214,"v":-0.03},{"x":0.929,"y":-0.214,"v":-0.02},
{"x":-0.929,"y":-0.357,"v":-0.07},{"x":-0.786,"y":-0.357,"v":-0.05},{"x":-0.643,"y":-0.357,"v":-0.03},{"x":-0.5,"y":-0.357,"v":-0.04},{"x":-0.357,"y":-0.357,"v":-0.04},{"x":-0.214,"y":-0.357,"v":-0.05},{"x":-0.071,"y":-0.357,"v":-0.05},{"x":0.071,"y":-0.357,"v":-0.04},{"x":0.214,"y":-0.357,"v":-0.03},{"x":0.357,"y":-0.357,"v":-0.01},{"x":0.5,"y":-0.357,"v":-0.04},{"x":0.643,"y":-0.357,"v":-0.03},{"x":0.786,"y":-0.357,"v":-0.02},{"x":0.929,"y":-0.357,"v":-0.03},
{"x":-0.929,"y":-0.5,"v":-0.02},{"x":-0.786,"y":-0.5,"v":-0.02},{"x":-0.643,"y":-0.5,"v":-0.02},{"x":-0.5,"y":-0.5,"v":-0.01},{"x":-0.357,"y":-0.5,"v":0.04},{"x":-0.214,"y":-0.5,"v":0.05},{"x":-0.071,"y":-0.5,"v":0.02},{"x":0.071,"y":-0.5,"v":-0.03},{"x":0.214,"y":-0.5,"v":-0.04},{"x":0.357,"y":-0.5,"v":-0.01},{"x":0.5,"y":-0.5,"v":-0.03},{"x":0.643,"y":-0.5,"v":0.04},{"x":0.786,"y":-0.5,"v":0.065},{"x":0.929,"y":-0.5,"v":-0.03},
{"x":-0.929,"y":-0.643,"v":-0.02},{"x":-0.786,"y":-0.643,"v":-0.04},{"x":-0.643,"y":-0.643,"v":-0.05},{"x":-0.5,"y":-0.643,"v":-0.04},{"x":-0.357,"y":-0.643,"v":-0.03},{"x":-0.214,"y":-0.643,"v":-0.02},{"x":-0.071,"y":-0.643,"v":-0.02},{"x":0.071,"y":-0.643,"v":-0.03},{"x":0.214,"y":-0.643,"v":-0.03},{"x":0.357,"y":-0.643,"v":-0.01},{"x":0.5,"y":-0.643,"v":-0.03},{"x":0.643,"y":-0.643,"v":-0.02},{"x":0.786,"y":-0.643,"v":0.04},{"x":0.929,"y":-0.643,"v":-0.03},
{"x":-0.929,"y":-0.786,"v":-0.02},{"x":-0.786,"y":-0.786,"v":-0.03},{"x":-0.643,"y":-0.786,"v":-0.05},{"x":-0.5,"y":-0.786,"v":-0.03},{"x":-0.357,"y":-0.786,"v":-0.04},{"x":-0.214,"y":-0.786,"v":-0.06},{"x":-0.071,"y":-0.786,"v":-0.05},{"x":0.071,"y":-0.786,"v":0.03},{"x":0.214,"y":-0.786,"v":0.02},{"x":0.357,"y":-0.786,"v":-0.04},{"x":0.5,"y":-0.786,"v":-0.04},{"x":0.643,"y":-0.786,"v":-0.05},{"x":0.786,"y":-0.786,"v":-0.05},{"x":0.929,"y":-0.786,"v":-0.05},
{"x":-0.929,"y":-0.929,"v":-0.03},{"x":-0.786,"y":-0.929,"v":0},{"x":-0.643,"y":-0.929,"v":0},{"x":-0.5,"y":-0.929,"v":-0.02},{"x":-0.357,"y":-0.929,"v":-0.02},{"x":-0.214,"y":-0.929,"v":-0.02},{"x":-0.071,"y":-0.929,"v":-0.03},{"x":0.071,"y":-0.929,"v":0},{"x":0.214,"y":-0.929,"v":-0.05},{"x":0.357,"y":-0.929,"v":-0.04},{"x":0.5,"y":-0.929,"v":0},{"x":0.643,"y":-0.929,"v":-0.03},{"x":0.786,"y":-0.929,"v":-0.04},{"x":0.929,"y":-0.929,"v":-0.03}],
"d8":[
{"x":-0.929,"y":0.929,"v":0.03},{"x":-0.786,"y":0.929,"v":-0.01},{"x":-0.643,"y":0.929,"v":-0.01},{"x":-0.5,"y":0.929,"v":-0.01},{"x":-0.357,"y":0.929,"v":-0.03},{"x":-0.214,"y":0.929,"v":-0.05},{"x":-0.071,"y":0.929,"v":-0.09},{"x":0.071,"y":0.929,"v":0.09},{"x":0.214,"y":0.929,"v":0.08},{"x":0.357,"y":0.929,"v":-0.07},{"x":0.5,"y":0.929,"v":-0.03},{"x":0.643,"y":0.929,"v":-0.02},{"x":0.786,"y":0.929,"v":-0.01},{"x":0.929,"y":0.929,"v":0},
{"x":-0.929,"y":0.786,"v":0},{"x":-0.786,"y":0.786,"v":0.05},{"x":-0.643,"y":0.786,"v":0.06},{"x":-0.5,"y":0.786,"v":0.02},{"x":-0.357,"y":0.786,"v":0.1},{"x":-0.214,"y":0.786,"v":0.125},{"x":-0.071,"y":0.786,"v":0},{"x":0.071,"y":0.786,"v":-0.04},{"x":0.214,"y":0.786,"v":0},{"x":0.357,"y":0.786,"v":-0.05},{"x":0.5,"y":0.786,"v":0.09},{"x":0.643,"y":0.786,"v":0.115},{"x":0.786,"y":0.786,"v":0.04},{"x":0.929,"y":0.786,"v":-0.02},
{"x":-0.929,"y":0.643,"v":0.02},{"x":-0.786,"y":0.643,"v":0.01},{"x":-0.643,"y":0.643,"v":0.01},{"x":-0.5,"y":0.643,"v":-0.01},{"x":-0.357,"y":0.643,"v":0},{"x":-0.214,"y":0.643,"v":0.02},{"x":-0.071,"y":0.643,"v":-0.04},{"x":0.071,"y":0.643,"v":-0.03},{"x":0.214,"y":0.643,"v":0},{"x":0.357,"y":0.643,"v":0},{"x":0.5,"y":0.643,"v":0.01},{"x":0.643,"y":0.643,"v":-0.01},{"x":0.786,"y":0.643,"v":-0.06},{"x":0.929,"y":0.643,"v":0.06},
{"x":-0.929,"y":0.5,"v":0.02},{"x":-0.786,"y":0.5,"v":-0.05},{"x":-0.643,"y":0.5,"v":-0.06},{"x":-0.5,"y":0.5,"v":-0.03},{"x":-0.357,"y":0.5,"v":-0.07},{"x":-0.214,"y":0.5,"v":-0.09},{"x":-0.071,"y":0.5,"v":-0.05},{"x":0.071,"y":0.5,"v":0.02},{"x":0.214,"y":0.5,"v":0.03},{"x":0.357,"y":0.5,"v":0.01},{"x":0.5,"y":0.5,"v":0},{"x":0.643,"y":0.5,"v":0},{"x":0.786,"y":0.5,"v":-0.06},{"x":0.929,"y":0.5,"v":0.09},
{"x":-0.929,"y":0.357,"v":0.06},{"x":-0.786,"y":0.357,"v":0.05},{"x":-0.643,"y":0.357,"v":-0.03},{"x":-0.5,"y":0.357,"v":0.08},{"x":-0.357,"y":0.357,"v":0.125},{"x":-0.214,"y":0.357,"v":0.03},{"x":-0.071,"y":0.357,"v":0.05},{"x":0.071,"y":0.357,"v":0.07},{"x":0.214,"y":0.357,"v":0.02},{"x":0.357,"y":0.357,"v":0},{"x":0.5,"y":0.357,"v":0.05},{"x":0.643,"y":0.357,"v":0},{"x":0.786,"y":0.357,"v":-0.08},{"x":0.929,"y":0.357,"v":-0.03},
{"x":-0.929,"y":0.214,"v":0.02},{"x":-0.786,"y":0.214,"v":0.03},{"x":-0.643,"y":0.214,"v":0},{"x":-0.5,"y":0.214,"v":0},{"x":-0.357,"y":0.214,"v":0.02},{"x":-0.214,"y":0.214,"v":-0.04},{"x":-0.071,"y":0.214,"v":-0.05},{"x":0.071,"y":0.214,"v":0},{"x":0.214,"y":0.214,"v":-0.04},{"x":0.357,"y":0.214,"v":-0.02},{"x":0.5,"y":0.214,"v":0.08},{"x":0.643,"y":0.214,"v":0.07},{"x":0.786,"y":0.214,"v":0},{"x":0.929,"y":0.214,"v":0.05},
{"x":-0.929,"y":0.071,"v":-0.07},{"x":-0.786,"y":0.071,"v":-0.08},{"x":-0.643,"y":0.071,"v":-0.04},{"x":-0.5,"y":0.071,"v":-0.08},{"x":-0.357,"y":0.071,"v":-0.03},{"x":-0.214,"y":0.071,"v":-0.02},{"x":-0.071,"y":0.071,"v":-0.03},{"x":0.071,"y":0.071,"v":-0.02},{"x":0.214,"y":0.071,"v":-0.06},{"x":0.357,"y":0.071,"v":-0.02},{"x":0.5,"y":0.071,"v":0},{"x":0.643,"y":0.071,"v":0.02},{"x":0.786,"y":0.071,"v":0.04},{"x":0.929,"y":0.071,"v":0.08},
{"x":-0.929,"y":-0.071,"v":0.125},{"x":-0.786,"y":-0.071,"v":0},{"x":-0.643,"y":-0.071,"v":0.07},{"x":-0.5,"y":-0.071,"v":0.08},{"x":-0.357,"y":-0.071,"v":0.06},{"x":-0.214,"y":-0.071,"v":0.06},{"x":-0.071,"y":-0.071,"v":0.08},{"x":0.071,"y":-0.071,"v":0.06},{"x":0.214,"y":-0.071,"v":0},{"x":0.357,"y":-0.071,"v":0.08},{"x":0.5,"y":-0.071,"v":0.01},{"x":0.643,"y":-0.071,"v":-0.03},{"x":0.786,"y":-0.071,"v":-0.02},{"x":0.929,"y":-0.071,"v":0.01},
{"x":-0.929,"y":-0.214,"v":0.01},{"x":-0.786,"y":-0.214,"v":-0.04},{"x":-0.643,"y":-0.214,"v":0.03},{"x":-0.5,"y":-0.214,"v":0},{"x":-0.357,"y":-0.214,"v":-0.06},{"x":-0.214,"y":-0.214,"v":-0.07},{"x":-0.071,"y":-0.214,"v":-0.05},{"x":0.071,"y":-0.214,"v":0},{"x":0.214,"y":-0.214,"v":-0.01},{"x":0.357,"y":-0.214,"v":0.07},{"x":0.5,"y":-0.214,"v":0},{"x":0.643,"y":-0.214,"v":-0.04},{"x":0.786,"y":-0.214,"v":-0.02},{"x":0.929,"y":-0.214,"v":0.03},
{"x":-0.929,"y":-0.357,"v":-0.11},{"x":-0.786,"y":-0.357,"v":-0.07},{"x":-0.643,"y":-0.357,"v":-0.03},{"x":-0.5,"y":-0.357,"v":-0.03},{"x":-0.357,"y":-0.357,"v":-0.06},{"x":-0.214,"y":-0.357,"v":-0.07},{"x":-0.071,"y":-0.357,"v":-0.06},{"x":0.071,"y":-0.357,"v":-0.02},{"x":0.214,"y":-0.357,"v":-0.02},{"x":0.357,"y":-0.357,"v":0.05},{"x":0.5,"y":-0.357,"v":-0.03},{"x":0.643,"y":-0.357,"v":-0.03},{"x":0.786,"y":-0.357,"v":0.01},{"x":0.929,"y":-0.357,"v":-0.03},
{"x":-0.929,"y":-0.5,"v":0.05},{"x":-0.786,"y":-0.5,"v":0.03},{"x":-0.643,"y":-0.5,"v":0.02},{"x":-0.5,"y":-0.5,"v":0.06},{"x":-0.357,"y":-0.5,"v":0.11},{"x":-0.214,"y":-0.5,"v":0.11},{"x":-0.071,"y":-0.5,"v":0.07},{"x":0.071,"y":-0.5,"v":-0.02},{"x":0.214,"y":-0.5,"v":-0.04},{"x":0.357,"y":-0.5,"v":0.05},{"x":0.5,"y":-0.5,"v":0},{"x":0.643,"y":-0.5,"v":0.09},{"x":0.786,"y":-0.5,"v":0.125},{"x":0.929,"y":-0.5,"v":0},
{"x":-0.929,"y":-0.643,"v":0.04},{"x":-0.786,"y":-0.643,"v":0},{"x":-0.643,"y":-0.643,"v":-0.05},{"x":-0.5,"y":-0.643,"v":0},{"x":-0.357,"y":-0.643,"v":0.01},{"x":-0.214,"y":-0.643,"v":0.02},{"x":-0.071,"y":-0.643,"v":0.01},{"x":0.071,"y":-0.643,"v":0},{"x":0.214,"y":-0.643,"v":-0.01},{"x":0.357,"y":-0.643,"v":0.05},{"x":0.5,"y":-0.643,"v":-0.01},{"x":0.643,"y":-0.643,"v":0.02},{"x":0.786,"y":-0.643,"v":0.09},{"x":0.929,"y":-0.643,"v":0},
{"x":-0.929,"y":-0.786,"v":-0.02},{"x":-0.786,"y":-0.786,"v":0},{"x":-0.643,"y":-0.786,"v":-0.05},{"x":-0.5,"y":-0.786,"v":0},{"x":-0.357,"y":-0.786,"v":-0.03},{"x":-0.214,"y":-0.786,"v":-0.08},{"x":-0.071,"y":-0.786,"v":-0.06},{"x":0.071,"y":-0.786,"v":0.11},{"x":0.214,"y":-0.786,"v":0.07},{"x":0.357,"y":-0.786,"v":-0.01},{"x":0.5,"y":-0.786,"v":0},{"x":0.643,"y":-0.786,"v":-0.04},{"x":0.786,"y":-0.786,"v":-0.05},{"x":0.929,"y":-0.786,"v":-0.03},
{"x":-0.929,"y":-0.929,"v":-0.02},{"x":-0.786,"y":-0.929,"v":0.07},{"x":-0.643,"y":-0.929,"v":0.07},{"x":-0.5,"y":-0.929,"v":0.05},{"x":-0.357,"y":-0.929,"v":0.05},{"x":-0.214,"y":-0.929,"v":0.05},{"x":-0.071,"y":-0.929,"v":0.01},{"x":0.071,"y":-0.929,"v":0.08},{"x":0.214,"y":-0.929,"v":-0.04},{"x":0.357,"y":-0.929,"v":-0.06},{"x":0.5,"y":-0.929,"v":0.08},{"x":0.643,"y":-0.929,"v":0.05},{"x":0.786,"y":-0.929,"v":0.03},{"x":0.929,"y":-0.929,"v":0.04}],
"d9":[
{"x":-0.929,"y":0.929,"v":0.08},{"x":-0.786,"y":0.929,"v":-0.04},{"x":-0.643,"y":0.929,"v":-0.03},{"x":-0.5,"y":0.929,"v":-0.02},{"x":-0.357,"y":0.929,"v":-0.06},{"x":-0.214,"y":0.929,"v":-0.1},{"x":-0.071,"y":0.929,"v":-0.14},{"x":0.071,"y":0.929,"v":0.1},{"x":0.214,"y":0.929,"v":0.1},{"x":0.357,"y":0.929,"v":-0.11},{"x":0.5,"y":0.929,"v":-0.09},{"x":0.643,"y":0.929,"v":-0.05},{"x":0.786,"y":0.929,"v":-0.04},{"x":0.929,"y":0.929,"v":0.01},
{"x":-0.929,"y":0.786,"v":-0.05},{"x":-0.786,"y":0.786,"v":0.08},{"x":-0.643,"y":0.786,"v":0.1},{"x":-0.5,"y":0.786,"v":0.03},{"x":-0.357,"y":0.786,"v":0.12},{"x":-0.214,"y":0.786,"v":0.135},{"x":-0.071,"y":0.786,"v":-0.03},{"x":0.071,"y":0.786,"v":-0.07},{"x":0.214,"y":0.786,"v":-0.01},{"x":0.357,"y":0.786,"v":-0.09},{"x":0.5,"y":0.786,"v":0.09},{"x":0.643,"y":0.786,"v":0.13},{"x":0.786,"y":0.786,"v":0.06},{"x":0.929,"y":0.786,"v":-0.06},
{"x":-0.929,"y":0.643,"v":0.01},{"x":-0.786,"y":0.643,"v":-0.01},{"x":-0.643,"y":0.643,"v":0},{"x":-0.5,"y":0.643,"v":-0.03},{"x":-0.357,"y":0.643,"v":-0.01},{"x":-0.214,"y":0.643,"v":0},{"x":-0.071,"y":0.643,"v":-0.06},{"x":0.071,"y":0.643,"v":-0.06},{"x":0.214,"y":0.643,"v":0},{"x":0.357,"y":0.643,"v":0},{"x":0.5,"y":0.643,"v":0.01},{"x":0.643,"y":0.643,"v":-0.02},{"x":0.786,"y":0.643,"v":-0.11},{"x":0.929,"y":0.643,"v":0.07},
{"x":-0.929,"y":0.5,"v":0.02},{"x":-0.786,"y":0.5,"v":-0.11},{"x":-0.643,"y":0.5,"v":-0.12},{"x":-0.5,"y":0.5,"v":-0.06},{"x":-0.357,"y":0.5,"v":-0.11},{"x":-0.214,"y":0.5,"v":-0.145},{"x":-0.071,"y":0.5,"v":-0.09},{"x":0.071,"y":0.5,"v":0.03},{"x":0.214,"y":0.5,"v":0.05},{"x":0.357,"y":0.5,"v":0.01},{"x":0.5,"y":0.5,"v":-0.01},{"x":0.643,"y":0.5,"v":-0.02},{"x":0.786,"y":0.5,"v":-0.1},{"x":0.929,"y":0.5,"v":0.125},
{"x":-0.929,"y":0.357,"v":0.09},{"x":-0.786,"y":0.357,"v":0.06},{"x":-0.643,"y":0.357,"v":-0.07},{"x":-0.5,"y":0.357,"v":0.09},{"x":-0.357,"y":0.357,"v":0.13},{"x":-0.214,"y":0.357,"v":0.04},{"x":-0.071,"y":0.357,"v":0.06},{"x":0.071,"y":0.357,"v":0.11},{"x":0.214,"y":0.357,"v":0.01},{"x":0.357,"y":0.357,"v":-0.02},{"x":0.5,"y":0.357,"v":0.05},{"x":0.643,"y":0.357,"v":0},{"x":0.786,"y":0.357,"v":-0.14},{"x":0.929,"y":0.357,"v":-0.09},
{"x":-0.929,"y":0.214,"v":0.01},{"x":-0.786,"y":0.214,"v":0.04},{"x":-0.643,"y":0.214,"v":-0.02},{"x":-0.5,"y":0.214,"v":-0.01},{"x":-0.357,"y":0.214,"v":0.02},{"x":-0.214,"y":0.214,"v":-0.07},{"x":-0.071,"y":0.214,"v":-0.08},{"x":0.071,"y":0.214,"v":0},{"x":0.214,"y":0.214,"v":-0.08},{"x":0.357,"y":0.214,"v":-0.06},{"x":0.5,"y":0.214,"v":0.1},{"x":0.643,"y":0.214,"v":0.1},{"x":0.786,"y":0.214,"v":-0.02},{"x":0.929,"y":0.214,"v":0.06},
{"x":-0.929,"y":0.071,"v":-0.12},{"x":-0.786,"y":0.071,"v":-0.14},{"x":-0.643,"y":0.071,"v":-0.09},{"x":-0.5,"y":0.071,"v":-0.14},{"x":-0.357,"y":0.071,"v":-0.07},{"x":-0.214,"y":0.071,"v":-0.04},{"x":-0.071,"y":0.071,"v":-0.04},{"x":0.071,"y":0.071,"v":-0.05},{"x":0.214,"y":0.071,"v":-0.11},{"x":0.357,"y":0.071,"v":-0.04},{"x":0.5,"y":0.071,"v":-0.02},{"x":0.643,"y":0.071,"v":0.02},{"x":0.786,"y":0.071,"v":0.05},{"x":0.929,"y":0.071,"v":0.1},
{"x":-0.929,"y":-0.071,"v":0.125},{"x":-0.786,"y":-0.071,"v":-0.05},{"x":-0.643,"y":-0.071,"v":0.075},{"x":-0.5,"y":-0.071,"v":0.1},{"x":-0.357,"y":-0.071,"v":0.09},{"x":-0.214,"y":-0.071,"v":0.09},{"x":-0.071,"y":-0.071,"v":0.1},{"x":0.071,"y":-0.071,"v":0.075},{"x":0.214,"y":-0.071,"v":-0.01},{"x":0.357,"y":-0.071,"v":0.11},{"x":0.5,"y":-0.071,"v":0.01},{"x":0.643,"y":-0.071,"v":-0.09},{"x":0.786,"y":-0.071,"v":-0.07},{"x":0.929,"y":-0.071,"v":-0.01},
{"x":-0.929,"y":-0.214,"v":-0.02},{"x":-0.786,"y":-0.214,"v":-0.06},{"x":-0.643,"y":-0.214,"v":0.01},{"x":-0.5,"y":-0.214,"v":-0.02},{"x":-0.357,"y":-0.214,"v":-0.11},{"x":-0.214,"y":-0.214,"v":-0.12},{"x":-0.071,"y":-0.214,"v":-0.09},{"x":0.071,"y":-0.214,"v":0.01},{"x":0.214,"y":-0.214,"v":-0.02},{"x":0.357,"y":-0.214,"v":0.1},{"x":0.5,"y":-0.214,"v":-0.03},{"x":0.643,"y":-0.214,"v":-0.09},{"x":0.786,"y":-0.214,"v":-0.05},{"x":0.929,"y":-0.214,"v":0.04},
{"x":-0.929,"y":-0.357,"v":-0.145},{"x":-0.786,"y":-0.357,"v":-0.12},{"x":-0.643,"y":-0.357,"v":-0.06},{"x":-0.5,"y":-0.357,"v":-0.07},{"x":-0.357,"y":-0.357,"v":-0.11},{"x":-0.214,"y":-0.357,"v":-0.12},{"x":-0.071,"y":-0.357,"v":-0.1},{"x":0.071,"y":-0.357,"v":-0.04},{"x":0.214,"y":-0.357,"v":-0.05},{"x":0.357,"y":-0.357,"v":0.065},{"x":0.5,"y":-0.357,"v":-0.05},{"x":0.643,"y":-0.357,"v":-0.07},{"x":0.786,"y":-0.357,"v":0.01},{"x":0.929,"y":-0.357,"v":-0.06},
{"x":-0.929,"y":-0.5,"v":0.06},{"x":-0.786,"y":-0.5,"v":0.03},{"x":-0.643,"y":-0.5,"v":0.02},{"x":-0.5,"y":-0.5,"v":0.07},{"x":-0.357,"y":-0.5,"v":0.125},{"x":-0.214,"y":-0.5,"v":0.125},{"x":-0.071,"y":-0.5,"v":0.09},{"x":0.071,"y":-0.5,"v":-0.04},{"x":0.214,"y":-0.5,"v":-0.09},{"x":0.357,"y":-0.5,"v":0.09},{"x":0.5,"y":-0.5,"v":0.01},{"x":0.643,"y":-0.5,"v":0.09},{"x":0.786,"y":-0.5,"v":0.13},{"x":0.929,"y":-0.5,"v":-0.04},
{"x":-0.929,"y":-0.643,"v":0.06},{"x":-0.786,"y":-0.643,"v":-0.01},{"x":-0.643,"y":-0.643,"v":-0.11},{"x":-0.5,"y":-0.643,"v":-0.02},{"x":-0.357,"y":-0.643,"v":0},{"x":-0.214,"y":-0.643,"v":0.01},{"x":-0.071,"y":-0.643,"v":-0.01},{"x":0.071,"y":-0.643,"v":0},{"x":0.214,"y":-0.643,"v":-0.02},{"x":0.357,"y":-0.643,"v":0.065},{"x":0.5,"y":-0.643,"v":-0.02},{"x":0.643,"y":-0.643,"v":0.015},{"x":0.786,"y":-0.643,"v":0.11},{"x":0.929,"y":-0.643,"v":-0.01},
{"x":-0.929,"y":-0.786,"v":-0.04},{"x":-0.786,"y":-0.786,"v":0},{"x":-0.643,"y":-0.786,"v":-0.11},{"x":-0.5,"y":-0.786,"v":0},{"x":-0.357,"y":-0.786,"v":-0.05},{"x":-0.214,"y":-0.786,"v":-0.14},{"x":-0.071,"y":-0.786,"v":-0.1},{"x":0.071,"y":-0.786,"v":0.11},{"x":0.214,"y":-0.786,"v":0.075},{"x":0.357,"y":-0.786,"v":-0.02},{"x":0.5,"y":-0.786,"v":-0.01},{"x":0.643,"y":-0.786,"v":-0.1},{"x":0.786,"y":-0.786,"v":-0.11},{"x":0.929,"y":-0.786,"v":-0.07},
{"x":-0.929,"y":-0.929,"v":-0.06},{"x":-0.786,"y":-0.929,"v":0.09},{"x":-0.643,"y":-0.929,"v":0.09},{"x":-0.5,"y":-0.929,"v":0.065},{"x":-0.357,"y":-0.929,"v":0.07},{"x":-0.214,"y":-0.929,"v":0.07},{"x":-0.071,"y":-0.929,"v":0},{"x":0.071,"y":-0.929,"v":0.1},{"x":0.214,"y":-0.929,"v":-0.07},{"x":0.357,"y":-0.929,"v":-0.11},{"x":0.5,"y":-0.929,"v":0.1},{"x":0.643,"y":-0.929,"v":0.08},{"x":0.786,"y":-0.929,"v":0.06},{"x":0.929,"y":-0.929,"v":0.065}]},
"concat":[
{"title":{"text":"Time 0.00","offset":5.7},"width":383,"height":383,"layer":[{"data":{"name":"d0"},"mark":{"type":"rect","width":25,"height":25,"clip":true},"encoding":{"x":{"field":"x","type":"quantitative","scale":{"domain":[-1,1],"nice":false},"axis":null},"y":{"field":"y","type":"quantitative","scale":{"domain":[-1,1],"nice":false},"axis":{"title":"y","values":[-1,-0.5,0,0.5,1],"format":".1f","titlePadding":18.5}},"color":{"field":"v","type":"quantitative","scale":{"domain":[-0.15,0.17,0.25],"range":["#000000","#ffa065","#ffc77f"],"interpolate":"rgb"},"legend":{"orient":"none","legendX":2277.5,"legendY":183.5,"title":null,"values":[-0.1,0,0.1,0.2],"labelExpr":"datum.value<0?'−0.':format(datum.value,'.1f')","gradientLength":606,"gradientThickness":76,"gradientStrokeColor":"black","gradientStrokeWidth":3.3,"labelFont":"DejaVu Sans","labelFontSize":41.67,"labelColor":"black","labelOffset":30}}}},{"data":{"name":"b"},"mark":{"type":"rect","filled":false,"stroke":"black","strokeWidth":3.3},"encoding":{"x":{"datum":-1},"x2":{"datum":1},"y":{"datum":-1},"y2":{"datum":1}}}]},
{"title":"Time 0.78","width":383,"height":383,"layer":[{"data":{"name":"d1"},"mark":{"type":"rect","width":65,"height":65,"clip":true},"encoding":{"x":{"field":"x","type":"quantitative","scale":{"domain":[-1,1],"nice":false},"axis":null},"y":{"field":"y","type":"quantitative","scale":{"domain":[-1,1],"nice":false},"axis":null},"color":{"field":"v","type":"quantitative","scale":{"domain":[-0.15,0.17,0.25],"range":["#000000","#ffa065","#ffc77f"],"interpolate":"rgb"},"legend":null}}},{"data":{"name":"b"},"mark":{"type":"rect","filled":false,"stroke":"black","strokeWidth":3.3},"encoding":{"x":{"datum":-1},"x2":{"datum":1},"y":{"datum":-1},"y2":{"datum":1}}}]},
{"title":"Time 1.56","width":383,"height":383,"layer":[{"data":{"name":"d2"},"mark":{"type":"rect","width":65,"height":65,"clip":true},"encoding":{"x":{"field":"x","type":"quantitative","scale":{"domain":[-1,1],"nice":false},"axis":null},"y":{"field":"y","type":"quantitative","scale":{"domain":[-1,1],"nice":false},"axis":null},"color":{"field":"v","type":"quantitative","scale":{"domain":[-0.15,0.17,0.25],"range":["#000000","#ffa065","#ffc77f"],"interpolate":"rgb"},"legend":null}}},{"data":{"name":"b"},"mark":{"type":"rect","filled":false,"stroke":"black","strokeWidth":3.3},"encoding":{"x":{"datum":-1},"x2":{"datum":1},"y":{"datum":-1},"y2":{"datum":1}}}]},
{"title":"Time 3.12","width":383,"height":383,"layer":[{"data":{"name":"d3"},"mark":{"type":"rect","width":65,"height":65,"clip":true},"encoding":{"x":{"field":"x","type":"quantitative","scale":{"domain":[-1,1],"nice":false},"axis":null},"y":{"field":"y","type":"quantitative","scale":{"domain":[-1,1],"nice":false},"axis":null},"color":{"field":"v","type":"quantitative","scale":{"domain":[-0.15,0.17,0.25],"range":["#000000","#ffa065","#ffc77f"],"interpolate":"rgb"},"legend":null}}},{"data":{"name":"b"},"mark":{"type":"rect","filled":false,"stroke":"black","strokeWidth":3.3},"encoding":{"x":{"datum":-1},"x2":{"datum":1},"y":{"datum":-1},"y2":{"datum":1}}}]},
{"title":"Time 5.86","width":383,"height":383,"layer":[{"data":{"name":"d4"},"mark":{"type":"rect","width":39,"height":39,"clip":true},"encoding":{"x":{"field":"x","type":"quantitative","scale":{"domain":[-1,1],"nice":false},"axis":null},"y":{"field":"y","type":"quantitative","scale":{"domain":[-1,1],"nice":false},"axis":null},"color":{"field":"v","type":"quantitative","scale":{"domain":[-0.15,0.17,0.25],"range":["#000000","#ffa065","#ffc77f"],"interpolate":"rgb"},"legend":null}}},{"data":{"name":"b"},"mark":{"type":"rect","filled":false,"stroke":"black","strokeWidth":3.3},"encoding":{"x":{"datum":-1},"x2":{"datum":1},"y":{"datum":-1},"y2":{"datum":1}}}]},
{"title":{"text":"Time 8.79","offset":5.7},"width":383,"height":383,"layer":[{"data":{"name":"d5"},"mark":{"type":"rect","width":49,"height":49,"clip":true},"encoding":{"x":{"field":"x","type":"quantitative","scale":{"domain":[-1,1],"nice":false},"axis":{"title":"x","values":[-1,0,1],"format":".0f","titlePadding":17}},"y":{"field":"y","type":"quantitative","scale":{"domain":[-1,1],"nice":false},"axis":{"title":"y","values":[-1,-0.5,0,0.5,1],"format":".1f","titlePadding":18.5}},"color":{"field":"v","type":"quantitative","scale":{"domain":[-0.15,0.17,0.25],"range":["#000000","#ffa065","#ffc77f"],"interpolate":"rgb"},"legend":null}}},{"data":{"name":"b"},"mark":{"type":"rect","filled":false,"stroke":"black","strokeWidth":3.3},"encoding":{"x":{"datum":-1},"x2":{"datum":1},"y":{"datum":-1},"y2":{"datum":1}}}]},
{"title":"Time 11.72","width":383,"height":383,"layer":[{"data":{"name":"d6"},"mark":{"type":"rect","width":39,"height":39,"clip":true},"encoding":{"x":{"field":"x","type":"quantitative","scale":{"domain":[-1,1],"nice":false},"axis":{"title":"x","values":[-1,0,1],"format":".0f","titlePadding":17}},"y":{"field":"y","type":"quantitative","scale":{"domain":[-1,1],"nice":false},"axis":null},"color":{"field":"v","type":"quantitative","scale":{"domain":[-0.15,0.17,0.25],"range":["#000000","#ffa065","#ffc77f"],"interpolate":"rgb"},"legend":null}}},{"data":{"name":"b"},"mark":{"type":"rect","filled":false,"stroke":"black","strokeWidth":3.3},"encoding":{"x":{"datum":-1},"x2":{"datum":1},"y":{"datum":-1},"y2":{"datum":1}}}]},
{"title":"Time 14.65","width":383,"height":383,"layer":[{"data":{"name":"d7"},"mark":{"type":"rect","width":28,"height":28,"clip":true},"encoding":{"x":{"field":"x","type":"quantitative","scale":{"domain":[-1,1],"nice":false},"axis":{"title":"x","values":[-1,0,1],"format":".0f","titlePadding":17}},"y":{"field":"y","type":"quantitative","scale":{"domain":[-1,1],"nice":false},"axis":null},"color":{"field":"v","type":"quantitative","scale":{"domain":[-0.15,0.17,0.25],"range":["#000000","#ffa065","#ffc77f"],"interpolate":"rgb"},"legend":null}}},{"data":{"name":"b"},"mark":{"type":"rect","filled":false,"stroke":"black","strokeWidth":3.3},"encoding":{"x":{"datum":-1},"x2":{"datum":1},"y":{"datum":-1},"y2":{"datum":1}}}]},
{"title":"Time 17.58","width":383,"height":383,"layer":[{"data":{"name":"d8"},"mark":{"type":"rect","width":28,"height":28,"clip":true},"encoding":{"x":{"field":"x","type":"quantitative","scale":{"domain":[-1,1],"nice":false},"axis":{"title":"x","values":[-1,0,1],"format":".0f","titlePadding":17}},"y":{"field":"y","type":"quantitative","scale":{"domain":[-1,1],"nice":false},"axis":null},"color":{"field":"v","type":"quantitative","scale":{"domain":[-0.15,0.17,0.25],"range":["#000000","#ffa065","#ffc77f"],"interpolate":"rgb"},"legend":null}}},{"data":{"name":"b"},"mark":{"type":"rect","filled":false,"stroke":"black","strokeWidth":3.3},"encoding":{"x":{"datum":-1},"x2":{"datum":1},"y":{"datum":-1},"y2":{"datum":1}}}]},
{"title":"Time 20.00","width":383,"height":383,"layer":[{"data":{"name":"d9"},"mark":{"type":"rect","width":28,"height":28,"clip":true},"encoding":{"x":{"field":"x","type":"quantitative","scale":{"domain":[-1,1],"nice":false},"axis":{"title":"x","values":[-1,0,1],"format":".0f","titlePadding":17}},"y":{"field":"y","type":"quantitative","scale":{"domain":[-1,1],"nice":false},"axis":null},"color":{"field":"v","type":"quantitative","scale":{"domain":[-0.15,0.17,0.25],"range":["#000000","#ffa065","#ffc77f"],"interpolate":"rgb"},"legend":null}}},{"data":{"name":"b"},"mark":{"type":"rect","filled":false,"stroke":"black","strokeWidth":3.3},"encoding":{"x":{"datum":-1},"x2":{"datum":1},"y":{"datum":-1},"y2":{"datum":1}}}]}
]}
